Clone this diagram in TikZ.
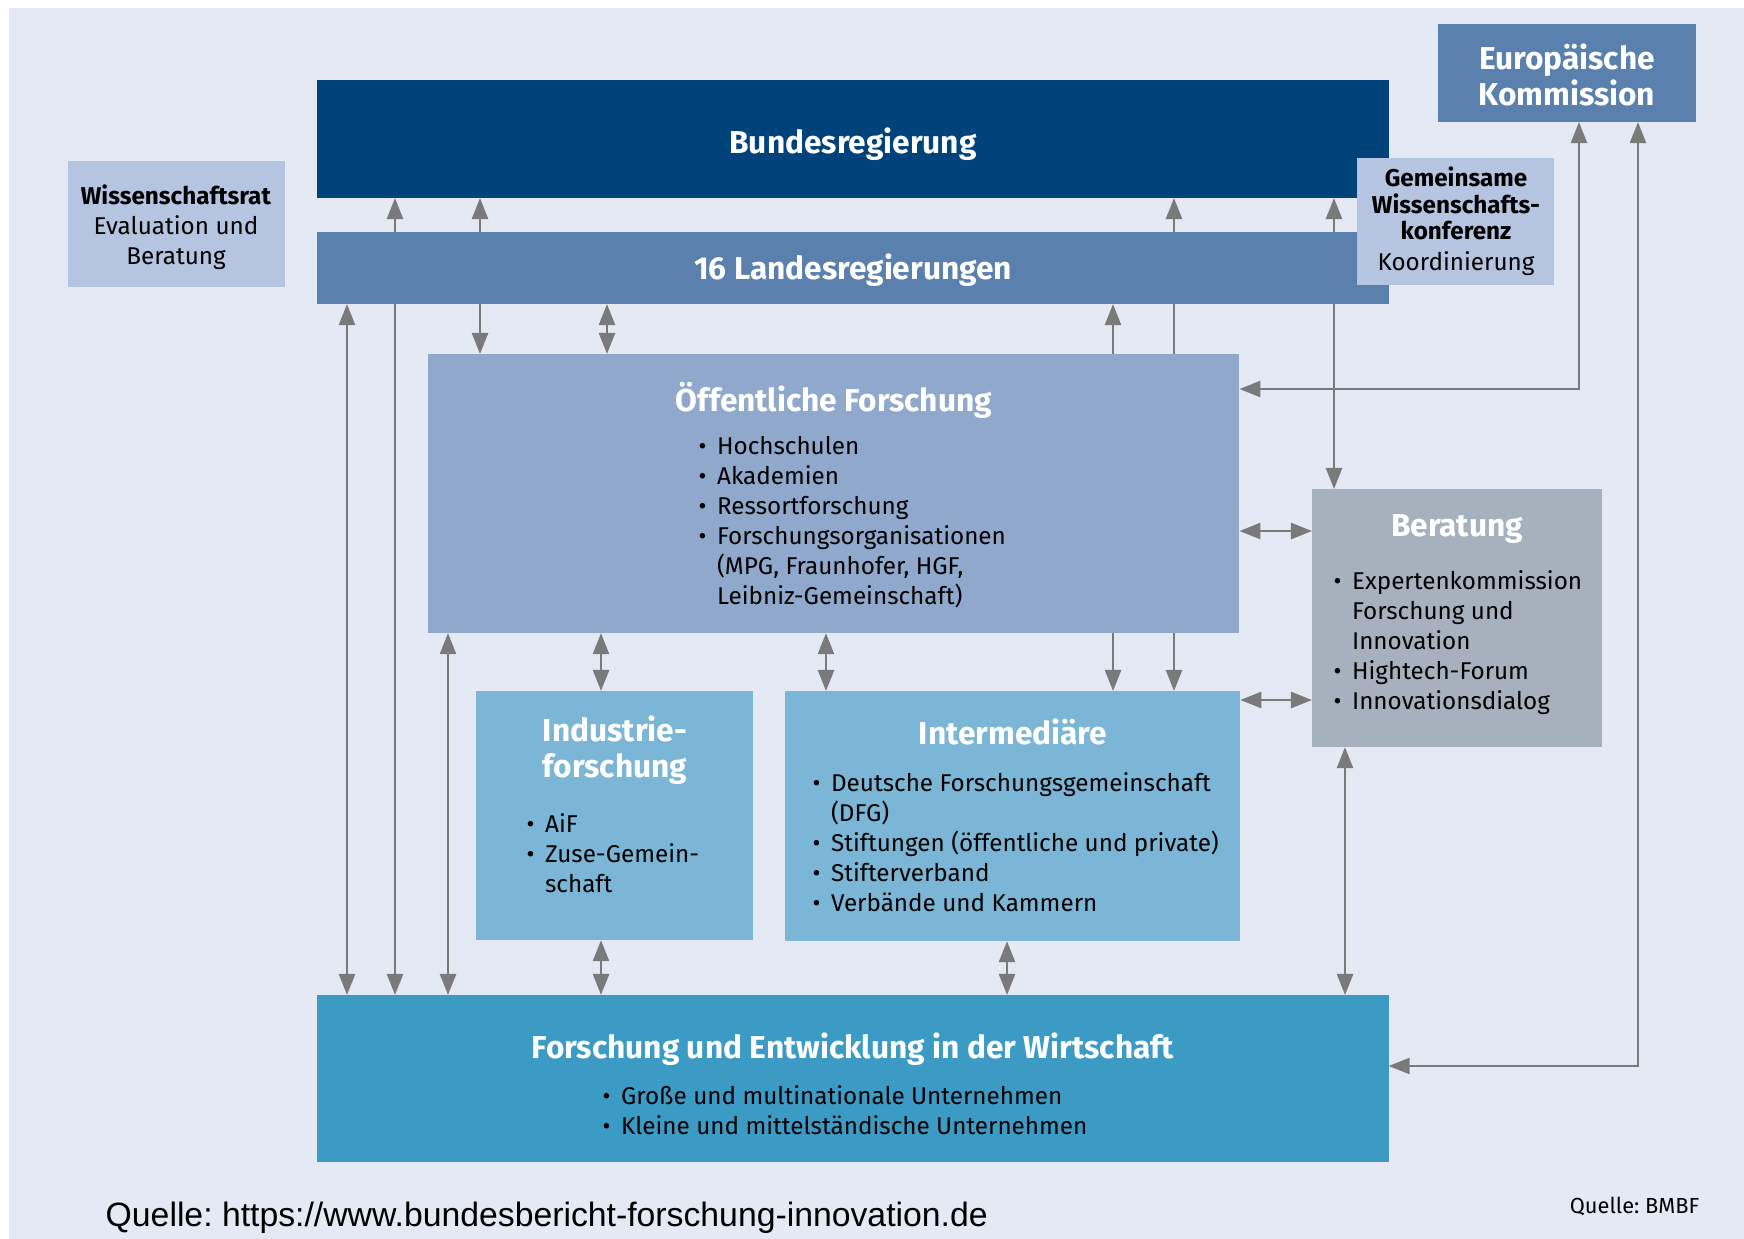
\documentclass[tikz,border=0pt]{standalone}
\usepackage{fontspec}
\setmainfont{Fira Sans}
\newfontfamily\urlfont{Liberation Sans}
\usepackage{tikz}
\usetikzlibrary{arrows.meta, positioning}
\definecolor{bgcolor}{RGB}{228, 233, 243}
\definecolor{bundcolor}{RGB}{0, 66, 122}
\definecolor{landcolor}{RGB}{90, 128, 174}
\definecolor{oeffcolor}{RGB}{143, 168, 203}
\definecolor{ratcolor}{RGB}{181, 197, 225}
\definecolor{beratcolor}{RGB}{166, 177, 189}
\definecolor{mittelcolor}{RGB}{123, 182, 214}
\definecolor{wirtcolor}{RGB}{60, 155, 197}
\definecolor{linkcolor}{RGB}{122, 122, 122}
\newcommand{\itemlist}[1]{\begin{tabular}[t]{@{}l@{\hspace{3pt}}l@{}}#1\end{tabular}}
\frenchspacing

\begin{document}
\begin{tikzpicture}[
    x=0.01cm, y=-0.01cm,
    box/.style={anchor=north west, inner sep=0pt, outer sep=0pt},
    heading/.style={text=white, font=\fontsize{9.0}{10.2}\selectfont\bfseries, align=center, inner sep=0pt},
    bullets/.style={anchor=base west, inner sep=0pt, font=\fontsize{6.9}{8.54}\selectfont},
    note/.style={font=\fontsize{6.9}{8.54}\selectfont, align=center, inner sep=0pt},
    link/.style={draw=linkcolor, line width=0.7pt},
    one/.style={-{Triangle[length=2.1mm, width=1.6mm]}},
    both/.style={{Triangle[length=2.1mm, width=1.6mm]}-{Triangle[length=2.1mm, width=1.6mm]}},
]
    % Page and background
    \fill[white] (0,0) rectangle (1744,1239);
    \useasboundingbox (0,0) rectangle (1744,1239);
    \fill[bgcolor] (9,8) rectangle (1744,1239);

    % Government
    \node[box, fill=bundcolor, minimum width=10.71cm, minimum height=1.18cm] (bund) at (317,80) {};
    \node[heading] (bundtext) at (853,144) {Bundesregierung};

    \node[box, fill=landcolor, minimum width=10.71cm, minimum height=0.72cm] (land) at (317,232) {};
    \node[heading] (landtext) at (853,270) {16 Landesregierungen};

    \node[box, fill=ratcolor, minimum width=2.17cm, minimum height=1.26cm] (wrat) at (68,161) {};
    \node[note] (wrattext) at (176,227) {\textbf{Wissenschaftsrat}\\Evaluation und\\Beratung};

    \node[box, fill=landcolor, minimum width=2.58cm, minimum height=0.98cm] (eu) at (1438,24) {};
    \node[heading] (eutext) at (1567,75) {Europäische\\Kommission};

    \node[box, fill=ratcolor, minimum width=1.97cm, minimum height=1.27cm] (gwk) at (1357,158) {};
    \node[note, font=\fontsize{6.9}{7.6}\selectfont] (gwktext) at (1456,221)
        {\textbf{Gemeinsame}\\\textbf{Wissenschafts-}\\\textbf{konferenz}\\[1pt]Koordinierung};

    % Research
    \node[box, fill=oeffcolor, minimum width=8.11cm, minimum height=2.79cm] (oeff) at (428,354) {};
    \node[heading] (oefftext) at (834,400) {Öffentliche Forschung};
    \node[bullets] (oefflist) at (698,454) {\itemlist{%
        \textbullet & Hochschulen\\
        \textbullet & Akademien\\
        \textbullet & Ressortforschung\\
        \textbullet & Forschungsorganisationen\\
        & (MPG, Fraunhofer, HGF,\\
        & Leibniz-Gemeinschaft)}};

    \node[box, fill=beratcolor, minimum width=2.90cm, minimum height=2.58cm] (berat) at (1312,489) {};
    \node[heading] (berattext) at (1457,529) {Beratung};
    \node[bullets] (beratlist) at (1333,589) {\itemlist{%
        \textbullet & Expertenkommission\\
        & Forschung und\\
        & Innovation\\
        \textbullet & Hightech-Forum\\
        \textbullet & Innovationsdialog}};

    \node[box, fill=mittelcolor, minimum width=2.77cm, minimum height=2.49cm] (indu) at (476,691) {};
    \node[heading] (indutext) at (615,750) {Industrie-\\forschung};
    \node[bullets] (indulist) at (526,832) {\itemlist{%
        \textbullet & AiF\\
        \textbullet & Zuse-Gemein-\\
        & schaft}};

    \node[box, fill=mittelcolor, minimum width=4.55cm, minimum height=2.50cm] (inter) at (785,691) {};
    \node[heading] (intertext) at (1013,732) {Intermediäre};
    \node[bullets] (interlist) at (812,791) {\itemlist{%
        \textbullet & Deutsche Forschungsgemeinschaft\\
        & (DFG)\\
        \textbullet & Stiftungen (öffentliche und private)\\
        \textbullet & Stifterverband\\
        \textbullet & Verbände und Kammern}};

    \node[box, fill=wirtcolor, minimum width=10.71cm, minimum height=1.67cm] (wirt) at (317,995) {};
    \node[heading] (wirttext) at (853,1049) {Forschung und Entwicklung in der Wirtschaft};
    \node[bullets] (wirtlist) at (602,1104) {\itemlist{%
        \textbullet & Große und multinationale Unternehmen\\
        \textbullet & Kleine und mittelständische Unternehmen}};

    % Links between the levels
    \draw[link, one] (land.north -| 395,0) -- (bund.south -| 395,0);
    \draw[link, one] (land.north -| 480,0) -- (bund.south -| 480,0);
    \draw[link, one] (land.north -| 1174,0) -- (bund.south -| 1174,0);
    \draw[link, one] (land.north -| 1334,0) -- (bund.south -| 1334,0);

    \draw[link, both] (land.south -| 347,0) -- (wirt.north -| 347,0);
    \draw[link, one] (land.south -| 395,0) -- (wirt.north -| 395,0);
    \draw[link, both] (oeff.south -| 448,0) -- (wirt.north -| 448,0);
    \draw[link, one] (land.south -| 480,0) -- (oeff.north -| 480,0);
    \draw[link, both] (land.south -| 607,0) -- (oeff.north -| 607,0);
    \draw[link, one] (oeff.north -| 1113,0) -- (land.south -| 1113,0);
    \draw[link] (oeff.north -| 1174,0) -- (land.south -| 1174,0);
    \draw[link, one] (land.south -| 1334,0) -- (berat.north -| 1334,0);

    \draw[link, both] (eu.south -| 1579,0) |- (oeff.east |- 0,389);
    \draw[link, both] (eu.south -| 1638,0) |- (wirt.east |- 0,1066);

    \draw[link, both] (oeff.east |- 0,531) -- (berat.west |- 0,531);
    \draw[link, both] (inter.east |- 0,700) -- (berat.west |- 0,700);
    \draw[link, both] (berat.south -| 1345,0) -- (wirt.north -| 1345,0);

    \draw[link, both] (oeff.south -| 601,0) -- (indu.north -| 601,0);
    \draw[link, both] (oeff.south -| 826,0) -- (inter.north -| 826,0);
    \draw[link, one] (oeff.south -| 1113,0) -- (inter.north -| 1113,0);
    \draw[link, one] (oeff.south -| 1174,0) -- (inter.north -| 1174,0);
    \draw[link, both] (indu.south -| 601,0) -- (wirt.north -| 601,0);
    \draw[link, both] (inter.south -| 1007,0) -- (wirt.north -| 1007,0);

    % Sources
    \node[anchor=west, inner sep=0pt, font=\urlfont\fontsize{9.6}{11}\selectfont] (url) at (105,1218)
        {Quelle: https://www.bundesbericht-forschung-innovation.de};
    \node[anchor=east, inner sep=0pt, font=\fontsize{6.2}{7}\selectfont] (bmbf) at (1700,1206) {Quelle: BMBF};
\end{tikzpicture}
\end{document}
